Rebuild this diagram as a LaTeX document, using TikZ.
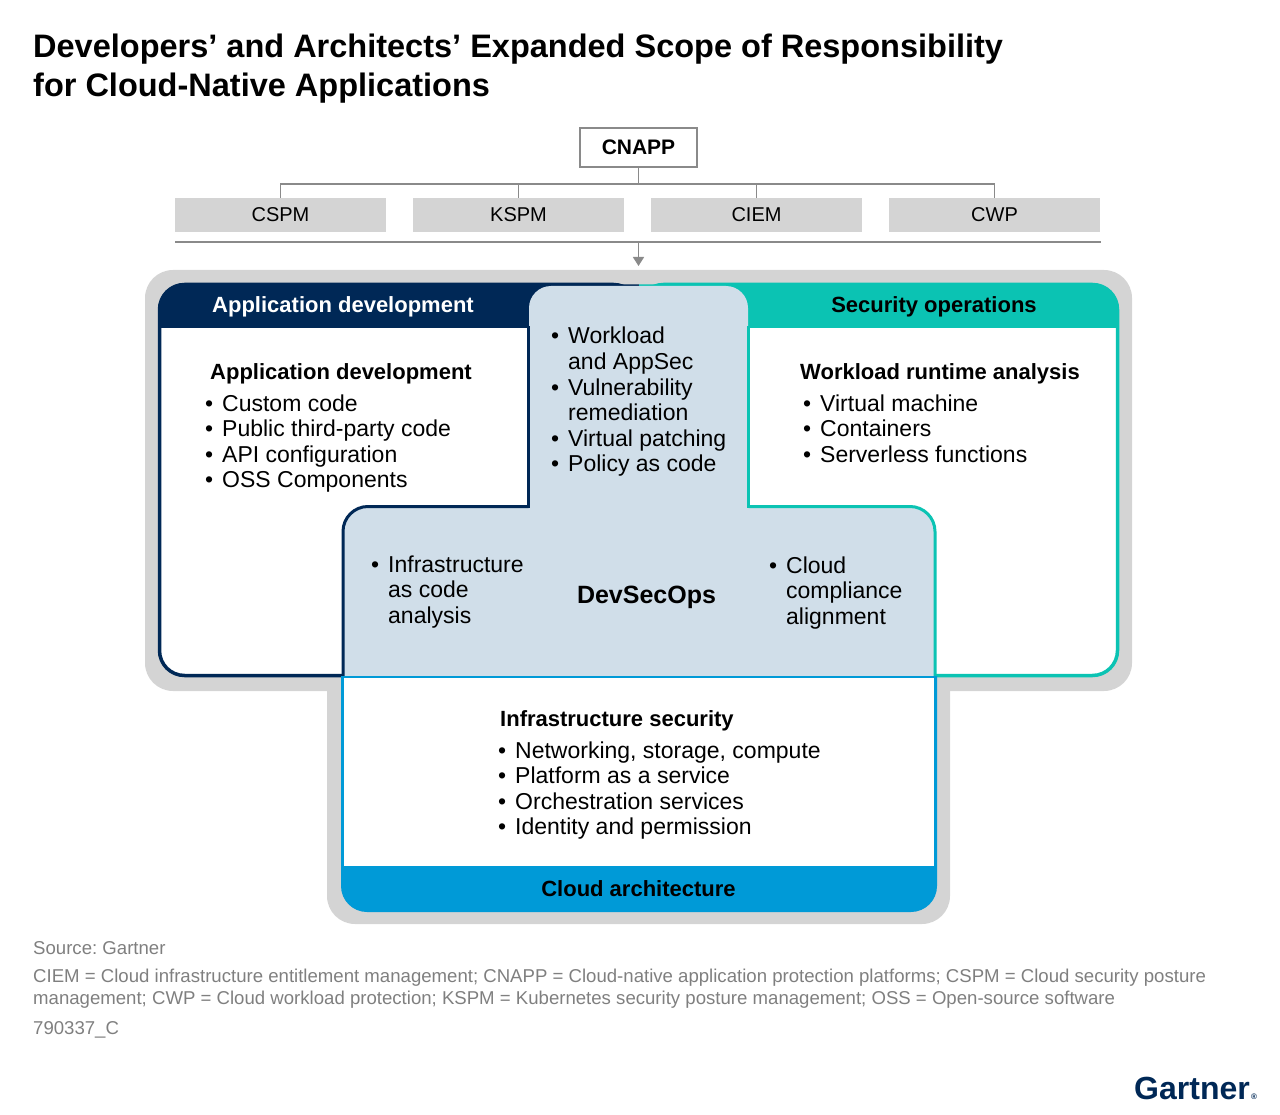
\documentclass[tikz,border=0pt]{standalone}
\usepackage{fontspec}
\setmainfont{Liberation Sans}
\usetikzlibrary{arrows.meta}
\definecolor{gnavy}{HTML}{002856}
\definecolor{gteal}{HTML}{0BC3B3}
\definecolor{gblue}{HTML}{009AD7}
\definecolor{gpale}{HTML}{D0DEE9}
\definecolor{gframe}{HTML}{D4D4D4}
\definecolor{gline}{HTML}{8A8A8A}
\definecolor{gnote}{HTML}{7F7F7F}
\frenchspacing
\newcommand{\fsz}[2]{\fontsize{#1}{#2}\selectfont}
\newcommand{\itm}{\makebox[17pt][l]{\textbullet}}
\newcommand{\cnt}{\hspace*{17pt}}
\newcommand{\blist}[1]{\begin{tabular}[t]{@{}l@{}}#1\end{tabular}}
\tikzset{
  txt/.style={anchor=base west, inner sep=0pt, font=\fsz{23}{25.6}},
  head/.style={anchor=base west, inner sep=0pt, font=\fsz{22}{26}\bfseries},
  band/.style={anchor=base, inner sep=0pt, font=\fsz{22}{26}\bfseries},
  note/.style={anchor=base west, inner sep=0pt, text=gnote, font=\fsz{18.6}{22}},
  pmbox/.style={fill=gframe, minimum width=211pt, minimum height=34pt, inner sep=0pt, font=\fsz{20}{24}},
  conn/.style={draw=gline, line width=1.6pt}
}
\begin{document}
\begin{tikzpicture}[x=1pt,y=-1pt]
\useasboundingbox (0,0) rectangle (1280,1115);
% title
\node[anchor=base west, inner sep=0pt, font=\fsz{32.5}{39}\bfseries] (title) at (33,58)
  {\blist{Developers’ and Architects’ Expanded Scope of Responsibility\\for Cloud-Native Applications}};
% CNAPP tree
\node[draw=gline, line width=2pt, fill=white, minimum width=117pt, minimum height=39pt, inner sep=0pt, font=\fsz{21}{24}\bfseries] (cnapp) at (638.5,147.5) {CNAPP};
\node[pmbox] (cspm) at (280.5,215) {CSPM};
\node[pmbox] (kspm) at (518.5,215) {KSPM};
\node[pmbox] (ciem) at (756.5,215) {CIEM};
\node[pmbox] (cwp) at (994.5,215) {CWP};
\coordinate (bus) at (638.5,184);
\draw[conn] (cnapp.south) -- (bus);
\foreach \m in {cspm,kspm,ciem,cwp}
  \draw[conn] (bus) -| (\m.north);
\coordinate (barl) at (175,242);
\coordinate (barr) at (1101,242);
\coordinate (barm) at (638.5,242);
\coordinate (frametop) at (638.5,266);
\draw[draw=gline, line width=2pt] (barl) -- (barr);
\draw[conn, -{Triangle[width=11pt,length=9pt]}] (barm) -- (frametop);
% grey frame
\fill[gframe, rounded corners=28pt] (145,270) rectangle (1132,691);
\fill[gframe, rounded corners=28pt] (327,600) rectangle (950,924);
% side boxes
\draw[gnavy, line width=3.5pt, fill=white, rounded corners=25pt] (159.5,284.5) rectangle (638.5,675.5);
\draw[gteal, line width=3.5pt, fill=white, rounded corners=25pt] (638.5,284.5) rectangle (1117.5,675.5);
\begin{scope}
  \clip[rounded corners=25pt] (159.5,284.5) rectangle (1117.5,675.5);
  \fill[gnavy] (159.5,284.5) rectangle (638.5,328);
  \fill[gteal] (638.5,284.5) rectangle (1117.5,328);
\end{scope}
% DevSecOps
\fill[gpale, rounded corners=22pt] (529,286) rectangle (748,560);
\fill[gpale, rounded corners=25pt] (343,506.5) rectangle (935,720);
\draw[gnavy, line width=3pt, line cap=rect] (528.7,328) -- (528.7,506.5);
\draw[gnavy, line width=3pt, rounded corners=25pt] (528.7,506.5) -- (343,506.5) -- (343,676);
\draw[gteal, line width=3pt, line cap=rect] (748.5,328) -- (748.5,506.5);
\draw[gteal, line width=3pt, rounded corners=25pt] (748.5,506.5) -- (935,506.5) -- (935,676);
% cloud architecture
\begin{scope}
  \clip (300,676.5) rectangle (980,930);
  \fill[gblue, rounded corners=26pt] (341,640) rectangle (937,912);
\end{scope}
\fill[white] (344,677) rectangle (934,866);
\draw[gblue, line width=2.5pt] (341,677) -- (937,677);
% texts
\node[band, text=white] (devhead) at (343,313) {Application development};
\node[band] (sechead) at (934,313) {Security operations};
\node[band] (cloudhead) at (638.5,896) {Cloud architecture};
\node[head] (appdev) at (210,379) {Application development};
\node[txt] (applist) at (205,411)
  {\blist{\itm Custom code\\ \itm Public third-party code\\ \itm API configuration\\ \itm OSS Components}};
\node[txt] (wllist) at (551,344)
  {\blist{\itm Workload\\ \cnt and AppSec\\ \itm Vulnerability\\ \cnt remediation\\ \itm Virtual patching\\ \itm Policy as code}};
\node[head] (wrt) at (800,379) {Workload runtime analysis};
\node[txt] (wrtlist) at (803,411)
  {\blist{\itm Virtual machine\\ \itm Containers\\ \itm Serverless functions}};
\node[txt] (iaclist) at (371,572) {\blist{\itm Infrastructure\\ \cnt as code\\ \cnt analysis}};
\node[anchor=base, inner sep=0pt, font=\fsz{25}{30}\bfseries] (devsecops) at (646.5,603) {DevSecOps};
\node[txt] (cclist) at (769,573) {\blist{\itm Cloud\\ \cnt compliance\\ \cnt alignment}};
\node[head] (infra) at (500,726) {Infrastructure security};
\node[txt] (infralist) at (498,758)
  {\blist{\itm Networking, storage, compute\\ \itm Platform as a service\\ \itm Orchestration services\\ \itm Identity and permission}};
% footer
\node[note] (src) at (33,954) {Source: Gartner};
\node[note] (abbr) at (33,982)
  {\blist{CIEM = Cloud infrastructure entitlement management; CNAPP = Cloud-native application protection platforms; CSPM = Cloud security posture\\management; CWP = Cloud workload protection; KSPM = Kubernetes security posture management; OSS = Open-source software}};
\node[note] (docid) at (33,1034) {790337\_C};
\node[anchor=base west, inner sep=0pt, text=gnavy, font=\fsz{32}{36}\bfseries] (logo) at (1134,1099)
  {Gartner{\fsz{8}{9}\,®}};
\end{tikzpicture}
\end{document}
